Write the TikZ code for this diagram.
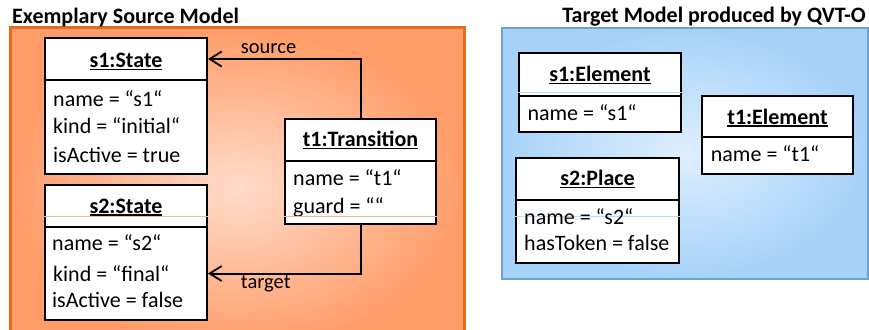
\documentclass[tikz,border=0pt]{standalone}
\usepackage{fontspec}
\setmainfont{Carlito}
\usetikzlibrary{arrows.meta}
\definecolor{orBorder}{HTML}{E46C1F}
\definecolor{orLight}{HTML}{FFDCCB}
\definecolor{orDark}{HTML}{FF9C68}
\definecolor{orLine}{HTML}{FFB48C}
\definecolor{blBorder}{HTML}{72A0C8}
\definecolor{blLight}{HTML}{DEEFFD}
\definecolor{blDark}{HTML}{A6D2F8}
\definecolor{blLine}{HTML}{B8DCF8}
\newcommand\myul[1]{\setbox0\hbox{#1}\rlap{\rule[-2.6pt]{\wd0}{1.6pt}}\box0}
\begin{document}
\begin{tikzpicture}[x=1pt,y=-1pt,
  font=\fontsize{22}{26}\selectfont,
  objbox/.style={draw=black, line width=2pt, fill=white, inner sep=0pt, rectangle},
  attr/.style={anchor=base west, inner sep=0pt},
  ttl/.style={anchor=base, inner sep=0pt, font=\fontsize{22}{26}\selectfont\bfseries},
  lbl/.style={anchor=base west, inner sep=0pt, font=\fontsize{20.5}{24}\selectfont},
  conn/.style={line width=2pt, -{Straight Barb[length=12pt,width=15pt,line width=1.8pt]}},
  artline/.style={line width=0.8pt}
]
\clip (0,0) rectangle (869,329);
\useasboundingbox (0,0) rectangle (869,329);

% panels
\shadedraw[inner color=orLight, outer color=orDark, draw=orBorder, line width=3pt] (10,28) rectangle (464,350);
\shadedraw[inner color=blLight, outer color=blDark, draw=blBorder, line width=2pt] (502,28) rectangle (868,279);

\node[anchor=base west, inner sep=0pt, font=\fontsize{22}{26}\selectfont\bfseries] (srcTitle) at (12,24) {Exemplary Source Model};
\node[anchor=base east, inner sep=0pt, font=\fontsize{22}{26}\selectfont\bfseries] (tgtTitle) at (866,23) {Target Model produced by QVT-O};

% s1:State
\node[objbox, minimum width=162pt, minimum height=94pt] (s1b) at (126,127) {};
\node[objbox, minimum width=162pt, minimum height=42pt] (s1h) at (126,59) {};
\node[ttl] (s1t) at (126,67.7) {\myul{s1:State}};
\node[attr] (s1a1) at (53,106) {name = “s1“};
\node[attr] (s1a2) at (53,133) {kind = “initial“};
\node[attr] (s1a3) at (53,162) {isActive = true};

% s2:State
\node[objbox, minimum width=162pt, minimum height=93pt] (s2b) at (126,273.5) {};
\node[objbox, minimum width=162pt, minimum height=42pt] (s2h) at (126,206) {};
\draw[artline, orLine] (s2h.west |- 0,216) -- (s2h.east |- 0,216);
\node[ttl] (s2t) at (126,213) {\myul{s2:State}};
\node[attr] (s2a1) at (52,250) {name = “s2“};
\node[attr] (s2a2) at (53,281) {kind = “final“};
\node[attr] (s2a3) at (52,307) {isActive = false};

% t1:Transition
\node[objbox, minimum width=151pt, minimum height=63pt] (t1b) at (360.5,192.5) {};
\node[objbox, minimum width=151pt, minimum height=42pt] (t1h) at (360.5,140) {};
\node[ttl] (t1t) at (360.5,146.7) {\myul{t1:Transition}};
\node[attr] (t1a1) at (293,185.7) {name = “t1“};
\node[attr] (t1a2) at (293,213) {guard = ““};
\draw[artline, orLine] (t1b.west |- 0,216) -- (t1b.east |- 0,216);

% connectors
\draw[conn] (t1h.north) |- (s1h.east);
\draw[conn] (t1b.south) |- (s2b.east);
\node[lbl] (srcl) at (240.7,54) {source};
\node[lbl] (tgtl) at (240.7,288.7) {target};

% s1:Element
\node[objbox, minimum width=162pt, minimum height=36pt] (e1b) at (600,114) {};
\node[objbox, minimum width=162pt, minimum height=43pt] (e1h) at (600,74.5) {};
\draw[artline, blLine] (e1h.west |- 0,92) -- (e1h.east |- 0,92);
\node[ttl] (e1t) at (600,81.7) {\myul{s1:Element}};
\node[attr] (e1a1) at (527.3,120) {name = “s1“};

% t1:Element
\node[objbox, minimum width=151pt, minimum height=37pt] (e2b) at (777.5,155.5) {};
\node[objbox, minimum width=151pt, minimum height=41pt] (e2h) at (777.5,116.5) {};
\node[ttl] (e2t) at (777.5,124) {\myul{t1:Element}};
\node[attr] (e2a1) at (710.7,161.7) {name = “t1“};

% s2:Place
\node[objbox, minimum width=163pt, minimum height=63pt] (p1b) at (597.5,231.5) {};
\node[objbox, minimum width=163pt, minimum height=42pt] (p1h) at (597.5,179) {};
\node[ttl] (p1t) at (597.5,185.7) {\myul{s2:Place}};
\draw[artline, blLine] (p1b.west |- 0,216) -- (p1b.east |- 0,216);
\node[attr] (p1a1) at (524,224) {name = “s2“};
\node[attr] (p1a2) at (524,250.7) {hasToken = false};
\end{tikzpicture}
\end{document}
